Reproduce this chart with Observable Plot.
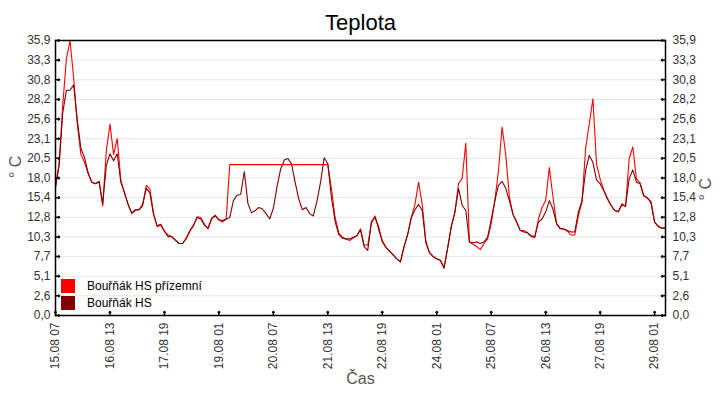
<!DOCTYPE html>
<html>
<head>
<meta charset="utf-8">
<script src="https://cdn.jsdelivr.net/npm/d3@7"></script>
<script src="https://cdn.jsdelivr.net/npm/@observablehq/plot@0.6"></script>
<style>
  html, body { margin: 0; padding: 0; background: #fff; }
  #wrap { position: relative; width: 720px; height: 400px; font-family: "Liberation Sans", Arial, sans-serif; }
  .leg { position: absolute; left: 61px; font-size: 12px; color: #000; display: flex; align-items: center; }
  .leg span.sw { display: inline-block; width: 14px; height: 14px; margin-right: 12px; }
</style>
</head>
<body>
<div id="wrap">
  <div class="leg" style="top:279px"><span class="sw" style="background:#ff0000"></span>Bouřňák HS přízemní</div>
  <div class="leg" style="top:296px"><span class="sw" style="background:#800000"></span>Bouřňák HS</div>
</div>
<script>
// Temperatures every 2 hours from 15.08 07:00
const darkSeries = [
  16.8, 19.6, 26.5, 29.4, 29.4, 30.1, 25.5, 21.8, 20.6, 18.6,
  17.4, 17.2, 17.5, 14.6, 19.6, 21.1, 20.2, 21.1, 17.4, 16.0,
  14.5, 13.4, 13.8, 13.8, 14.5, 16.6, 16.0, 13.2, 11.7, 11.9,
  11.0, 10.3, 10.3, 9.8, 9.4, 9.4, 10.1, 11.1, 11.8, 12.8,
  12.6, 11.8, 11.4, 12.7, 13.0, 12.5, 12.4, 12.6, 12.8, 15.0,
  15.7, 15.8, 18.8, 14.6, 13.4, 13.7, 14.1, 13.9, 13.3, 12.6,
  14.0, 16.8, 19.1, 20.3, 20.5, 19.8, 17.4, 15.2, 13.8, 14.1,
  13.3, 13.0, 14.9, 17.4, 20.6, 19.8, 15.4, 12.3, 10.6, 10.1,
  10.0, 10.0, 10.2, 10.4, 11.2, 9.0, 8.5, 12.3, 12.8, 11.6,
  9.6, 8.9, 8.4, 7.9, 7.4, 7.0, 9.0, 10.6, 12.8, 13.8,
  14.5, 13.7, 9.5, 8.2, 7.7, 7.4, 7.2, 6.2, 8.8, 11.6,
  13.5, 16.6, 14.4, 13.7, 9.6, 9.5, 9.6, 9.4, 9.6, 10.2,
  12.5, 15.0, 17.0, 17.5, 16.6, 15.0, 13.2, 12.2, 11.1, 10.9,
  10.8, 10.4, 10.3, 12.2, 12.6, 13.5, 15.0, 13.9, 12.0, 11.4,
  11.3, 11.1, 10.9, 10.9, 13.5, 15.0, 18.9, 20.9, 20.0, 17.7,
  17.2, 16.3, 15.2, 14.4, 13.7, 13.6, 14.4, 14.3, 17.9, 19.0,
  17.4, 17.2, 15.6, 15.4, 14.7, 12.2, 11.6, 11.4, 11.4
];
const redSeries = [
  16.8, 19.8, 27.5, 33.5, 35.9, 31.0, 25.0, 21.0, 20.0, 18.5,
  17.4, 17.2, 17.5, 14.3, 21.5, 25.0, 21.0, 23.1, 17.6, 16.0,
  14.5, 13.3, 13.7, 13.8, 14.3, 17.0, 16.5, 13.3, 11.6, 11.8,
  11.0, 10.5, 10.3, 9.9, 9.4, 9.4, 10.0, 11.0, 11.7, 12.9,
  12.8, 11.9, 11.3, 12.6, 13.1, 12.5, 12.2, 12.6, 19.7, 19.7,
  19.7, 19.7, 19.7, 19.7, 19.7, 19.7, 19.7, 19.7, 19.7, 19.7,
  19.7, 19.7, 19.7, 19.7, 19.7, 19.7, 19.7, 19.7, 19.7, 19.7,
  19.7, 19.7, 19.7, 19.7, 19.7, 19.7, 16.5, 12.8, 10.8, 10.2,
  10.0, 9.8, 10.1, 10.4, 11.3, 9.2, 9.2, 12.0, 13.0, 11.2,
  9.8, 8.9, 8.4, 7.9, 7.4, 7.0, 9.0, 10.6, 12.8, 14.5,
  17.4, 14.5, 9.7, 8.2, 7.7, 7.4, 7.2, 6.2, 8.8, 11.6,
  13.5, 17.2, 17.9, 22.5, 9.6, 9.3, 9.0, 8.6, 9.4, 10.0,
  12.0, 15.0, 18.9, 24.6, 21.0, 15.5, 13.2, 12.2, 11.1, 11.1,
  10.8, 10.3, 10.2, 12.6, 14.1, 15.0, 19.3, 15.5, 12.0, 11.3,
  11.3, 11.0, 10.5, 10.5, 13.0, 14.8, 21.8, 25.0, 28.3, 19.8,
  17.8, 16.4, 15.3, 14.4, 13.7, 13.5, 14.6, 14.2, 20.5, 22.0,
  17.8, 17.3, 15.7, 15.3, 14.9, 12.2, 11.7, 11.4, 11.4
];
const stepHours = 2;
const xTickHours = [0, 30, 60, 90, 120, 150, 180, 210, 240, 270, 300, 330];
const xTickLabels = ["15.08 07", "16.08 13", "17.08 19", "19.08 01", "20.08 07", "21.08 13",
                     "22.08 19", "24.08 01", "25.08 07", "26.08 13", "27.08 19", "29.08 01"];
const yTickLabels = ["0,0", "2,6", "5,1", "7,7", "10,3", "12,8", "15,4", "18,0", "20,5",
                     "23,1", "25,6", "28,2", "30,8", "33,3", "35,9"];
const yMax = 35.9;
const yTicks = yTickLabels.map((_, i) => i * yMax / (yTickLabels.length - 1));
const totalHours = 336;

const rows = darkSeries.map((d, i) => ({h: i * stepHours, dark: d, red: redSeries[i]}));
const yFmt = (d) => yTickLabels[yTicks.findIndex(t => Math.abs(t - d) < 1e-6)];
const xFmt = (d) => xTickLabels[xTickHours.indexOf(d)];

const chart = Plot.plot({
  width: 720,
  height: 400,
  marginLeft: 55,
  marginRight: 55,
  marginTop: 40,
  marginBottom: 85,
  style: {fontFamily: "'Liberation Sans', Arial, sans-serif", fontSize: "12px", color: "#333", background: "transparent"},
  x: {domain: [0, totalHours], axis: null},
  y: {domain: [0, yMax], axis: null},
  marks: [
    Plot.gridY(yTicks, {stroke: "#e6e6e6", strokeOpacity: 1}),
    Plot.line(rows, {x: "h", y: "red", stroke: "#ff0000", strokeWidth: 1.1}),
    Plot.line(rows, {x: "h", y: "dark", stroke: "#800000", strokeWidth: 1.1}),
    Plot.frame({stroke: "#000", strokeWidth: 1.5}),
    Plot.vector(xTickHours, {x: d => d, y: 0, length: 4, rotate: 0, anchor: "start", stroke: "#000"}),
    Plot.vector(yTicks, {x: 0, y: d => d, length: 4, rotate: 90, anchor: "start", stroke: "#000"}),
    Plot.vector(yTicks, {x: totalHours, y: d => d, length: 4, rotate: -90, anchor: "start", stroke: "#000"}),
    Plot.axisX(xTickHours, {tickSize: 0, tickPadding: 7, tickRotate: -90, tickFormat: xFmt, label: null, fill: "#333", fontSize: 12}),
    Plot.axisY(yTicks, {anchor: "left", tickSize: 0, tickPadding: 5, tickFormat: yFmt, label: null, fill: "#333", fontSize: 12}),
    Plot.axisY(yTicks, {anchor: "right", tickSize: 0, tickPadding: 7, tickFormat: yFmt, label: null, fill: "#333", fontSize: 12}),
    Plot.text(["Teplota"], {frameAnchor: "top", lineAnchor: "middle", dy: -18, fontSize: 22, fill: "#000"}),
    Plot.text(["° C"], {frameAnchor: "left", dx: -40, rotate: -90, fontSize: 16, fill: "#555"}),
    Plot.text(["° C"], {frameAnchor: "right", dx: 40, rotate: -90, fontSize: 16, fill: "#555"}),
    Plot.text(["Čas"], {frameAnchor: "bottom", dy: 68, fontSize: 16, fill: "#555"})
  ]
});
const wrap = document.getElementById("wrap");
chart.style.position = "absolute";
chart.style.left = "0";
chart.style.top = "0";
wrap.insertBefore(chart, wrap.firstChild);
</script>
</body>
</html>
